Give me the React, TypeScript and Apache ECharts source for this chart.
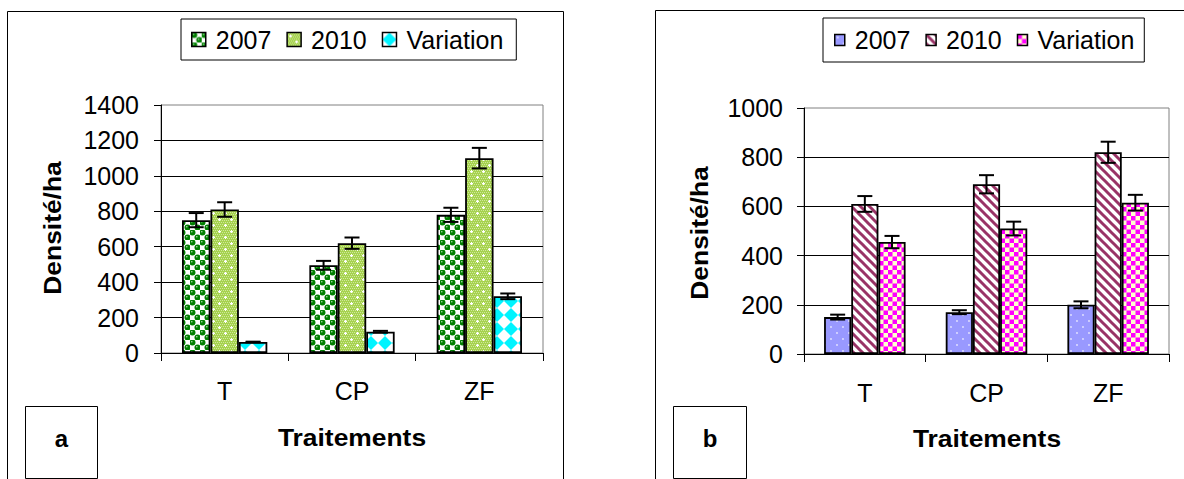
import React, { useEffect, useRef } from "react";
import * as echarts from "echarts";

// ---------- data ----------
const categories = ["T", "CP", "ZF"];
const seriesNames = ["2007", "2010", "Variation"];
const yTicksA = [0, 200, 400, 600, 800, 1000, 1200, 1400];
const yTicksB = [0, 200, 400, 600, 800, 1000];

const a2007 = [750, 495, 780];
const a2007Err = [40, 25, 40];
const a2010 = [810, 620, 1100];
const a2010Err = [41, 32, 58];
const aVar = [62, 120, 320];
const aVarErr = [2, 5, 16];

const b2007 = [150, 170, 200];
const b2007Err = [10, 8, 14];
const b2010 = [610, 690, 820];
const b2010Err = [32, 37, 43];
const bVar = [455, 510, 615];
const bVarErr = [25, 28, 32];

// ---------- styles ----------
const FONT = "'Liberation Sans', Arial, sans-serif";
const GAP = 0.33;

const tile = (w: number, h: number, body: string) => ({
  image:
    "data:image/svg+xml;charset=utf-8," +
    encodeURIComponent(
      `<svg xmlns="http://www.w3.org/2000/svg" width="${w}" height="${h}">${body}</svg>`
    ),
  repeat: "repeat",
  imageWidth: w,
  imageHeight: h,
});

const patA2007 = tile(
  10,
  10,
  `<rect width="10" height="10" fill="#ffffff"/>` +
    `<circle cx="2.5" cy="2.5" r="3" fill="#008000"/>` +
    `<circle cx="7.5" cy="7.5" r="3" fill="#008000"/>` +
    `<circle cx="1.8" cy="1.7" r="0.8" fill="#b8dcb8"/>` +
    `<circle cx="6.8" cy="6.7" r="0.8" fill="#b8dcb8"/>`
);
const patA2010 = tile(
  12,
  12,
  `<rect width="12" height="12" fill="#a6d24e"/>` +
    [0, 2, 4, 6, 8, 10]
      .map((x) =>
        [0, 2, 4, 6, 8, 10]
          .map((y) => `<rect x="${x + ((y / 2) % 2)}" y="${y}" width="1" height="1" fill="#cfe89c"/>`)
          .join("")
      )
      .join("") +
    `<rect x="2" y="3" width="3" height="1" fill="#ffffff"/><rect x="3" y="2" width="1" height="3" fill="#ffffff"/>` +
    `<rect x="8" y="9" width="3" height="1" fill="#ffffff"/><rect x="9" y="8" width="1" height="3" fill="#ffffff"/>`
);
const patAVar = tile(
  14,
  14,
  `<rect width="14" height="14" fill="#ffffff"/><polygon points="7,0 14,7 7,14 0,7" fill="#00f4ff"/>`
);

const patB2007 = tile(
  12,
  12,
  `<rect width="12" height="12" fill="#9999ff"/>` +
    `<circle cx="3" cy="3" r="0.9" fill="#e6e6ff"/><circle cx="9" cy="9" r="0.9" fill="#e6e6ff"/>`
);
const patB2010 = tile(
  9,
  9,
  `<rect width="9" height="9" fill="#ffffff"/>` +
    `<g stroke="#993366" stroke-width="3"><line x1="-2" y1="-2" x2="11" y2="11"/>` +
    `<line x1="-2" y1="7" x2="2" y2="11"/><line x1="7" y1="-2" x2="11" y2="2"/></g>`
);
const patBVar = tile(
  9,
  9,
  `<rect width="9" height="9" fill="#ffffcc"/>` +
    `<rect x="0" y="0" width="4.5" height="4.5" fill="#ff00ff"/>` +
    `<rect x="4.5" y="4.5" width="4.5" height="4.5" fill="#ff00ff"/>`
);

type Cfg = {
  values: number[][];
  errs: number[][];
  patterns: any[];
  ticks: number[];
  grid: { left: number; top: number; width: number; height: number };
  yLabelMargin: number;
  xLabelMargin: number;
  legend: {
    left: number;
    top: number;
    padding: number[];
    itemGap: number;
    iw: number;
    ih: number;
  };
  frame: { x: number; y: number; w: number; h: number };
  box: { x: number; y: number; w: number; h: number; label: string };
  xTitle: { x: number; y: number };
  yTitle: { x: number; y: number };
};

const buildOption = (c: Cfg) => {
  const errData: number[][] = [];
  for (let s = 0; s < 3; s++) {
    for (let k = 0; k < categories.length; k++) {
      errData.push([k, s, c.values[s][k], c.errs[s][k]]);
    }
  }
  const textStyleBase = { fontFamily: FONT, color: "#000" };
  return {
    animation: false,
    grid: {
      left: c.grid.left,
      top: c.grid.top,
      width: c.grid.width,
      height: c.grid.height,
      show: true,
      borderColor: "#808080",
      borderWidth: 1,
      backgroundColor: "transparent",
      containLabel: false,
      outerBoundsMode: "none",
    },
    legend: {
      show: true,
      data: seriesNames,
      left: c.legend.left,
      top: c.legend.top,
      orient: "horizontal",
      padding: c.legend.padding,
      itemGap: c.legend.itemGap,
      itemWidth: c.legend.iw,
      itemHeight: c.legend.ih,
      icon: "rect",
      borderColor: "#000",
      borderWidth: 1,
      borderRadius: 0,
      backgroundColor: "#fff",
      selectedMode: false,
      itemStyle: { borderColor: "#000", borderWidth: 1.5 },
      textStyle: { ...textStyleBase, fontSize: 25, padding: [0, 0, 0, 5] },
    },
    xAxis: {
      type: "category",
      data: categories,
      boundaryGap: true,
      axisLine: { show: true, lineStyle: { color: "#000", width: 1 } },
      axisTick: {
        show: true,
        alignWithLabel: false,
        length: 8,
        lineStyle: { color: "#000", width: 1 },
      },
      axisLabel: { ...textStyleBase, fontSize: 25, margin: c.xLabelMargin },
      splitLine: { show: false },
    },
    yAxis: {
      type: "value",
      min: c.ticks[0],
      max: c.ticks[c.ticks.length - 1],
      interval: c.ticks[1] - c.ticks[0],
      axisLine: { show: true, lineStyle: { color: "#000", width: 1 } },
      axisTick: { show: true, length: 7, lineStyle: { color: "#000", width: 1 } },
      axisLabel: {
        ...textStyleBase,
        fontSize: 25,
        margin: c.yLabelMargin,
        formatter: (v: number) => String(v),
      },
      splitLine: {
        show: true,
        showMaxLine: false,
        showMinLine: false,
        lineStyle: { color: "#000", width: 1 },
      },
    },
    series: [
      ...seriesNames.map((name, s) => ({
        name,
        type: "bar",
        data: c.values[s],
        barGap: "0%",
        barCategoryGap: GAP * 100 + "%",
        itemStyle: { color: c.patterns[s], borderColor: "#000", borderWidth: 1.8 },
        emphasis: { disabled: true },
        z: 2,
      })),
      {
        type: "custom",
        name: "err",
        data: errData,
        encode: { x: 0, y: 2 },
        z: 5,
        silent: true,
        renderItem: (_p: any, api: any) => {
          const cat = api.value(0);
          const s = api.value(1);
          const v = api.value(2);
          const e = api.value(3);
          const band = Math.abs(api.coord([1, 0])[0] - api.coord([0, 0])[0]);
          const barW = (band * (1 - GAP)) / 3;
          const x = api.coord([cat, v])[0] + (s - 1) * barW;
          const yTop = api.coord([cat, v + e])[1];
          const yBot = api.coord([cat, v - e])[1];
          const half = 7.5;
          const st = { stroke: "#000", lineWidth: 2 };
          return {
            type: "group",
            children: [
              { type: "line", shape: { x1: x, y1: yTop, x2: x, y2: yBot }, style: st },
              { type: "line", shape: { x1: x - half, y1: yTop, x2: x + half, y2: yTop }, style: st },
              { type: "line", shape: { x1: x - half, y1: yBot, x2: x + half, y2: yBot }, style: st },
            ],
          };
        },
      },
    ],
    graphic: [
      {
        type: "rect",
        silent: true,
        z: -10,
        shape: { x: c.frame.x, y: c.frame.y, width: c.frame.w, height: c.frame.h },
        style: { fill: "none", stroke: "#000", lineWidth: 1 },
      },
      {
        type: "rect",
        silent: true,
        shape: { x: c.box.x, y: c.box.y, width: c.box.w, height: c.box.h },
        style: { fill: "#fff", stroke: "#000", lineWidth: 1 },
      },
      {
        type: "text",
        silent: true,
        x: c.box.x + c.box.w / 2,
        y: c.box.y + 32,
        style: {
          text: c.box.label,
          fontFamily: FONT,
          fontWeight: "bold",
          fontSize: 24,
          fill: "#000",
          align: "center",
          verticalAlign: "middle",
          textAlign: "center",
          textVerticalAlign: "middle",
        },
      },
      {
        type: "text",
        silent: true,
        x: c.xTitle.x,
        y: c.xTitle.y,
        scaleX: 1.1,
        style: {
          text: "Traitements",
          fontFamily: FONT,
          fontWeight: "bold",
          fontSize: 24,
          fill: "#000",
          align: "center",
          verticalAlign: "middle",
          textAlign: "center",
          textVerticalAlign: "middle",
        },
      },
      {
        type: "text",
        silent: true,
        x: c.yTitle.x,
        y: c.yTitle.y,
        rotation: Math.PI / 2,
        scaleX: 1.1,
        style: {
          text: "Densité/ha",
          fontFamily: FONT,
          fontWeight: "bold",
          fontSize: 24,
          fill: "#000",
          align: "center",
          verticalAlign: "middle",
          textAlign: "center",
          textVerticalAlign: "middle",
        },
      },
    ],
  };
};

const cfgA: Cfg = {
  values: [a2007, a2010, aVar],
  errs: [a2007Err, a2010Err, aVarErr],
  patterns: [patA2007, patA2010, patAVar],
  ticks: yTicksA,
  grid: { left: 161, top: 105, width: 382, height: 248 },
  yLabelMargin: 22,
  xLabelMargin: 25,
  legend: { left: 181, top: 19, padding: [8, 13, 8, 10], itemGap: 15, iw: 14, ih: 14 },
  frame: { x: 7.5, y: 11.5, w: 556, h: 500 },
  box: { x: 25.5, y: 406.5, w: 72, h: 72, label: "a" },
  xTitle: { x: 352, y: 437 },
  yTitle: { x: 52, y: 228 },
};

const cfgB: Cfg = {
  values: [b2007, b2010, bVar],
  errs: [b2007Err, b2010Err, bVarErr],
  patterns: [patB2007, patB2010, patBVar],
  ticks: yTicksB,
  grid: { left: 204, top: 108, width: 365, height: 246 },
  yLabelMargin: 21,
  xLabelMargin: 26,
  legend: { left: 223, top: 18, padding: [9.5, 10, 9.5, 11], itemGap: 15, iw: 10, ih: 11 },
  frame: { x: 55.5, y: 10.5, w: 600, h: 500 },
  box: { x: 73.5, y: 406.5, w: 73, h: 72, label: "b" },
  xTitle: { x: 387, y: 438 },
  yTitle: { x: 99, y: 233 },
};

const Chart: React.FC<{ cfg: Cfg; left: number; width: number }> = ({ cfg, left, width }) => {
  const ref = useRef<HTMLDivElement>(null);
  useEffect(() => {
    if (!ref.current) return;
    const chart = echarts.init(ref.current, null, { renderer: "svg" });
    chart.setOption(buildOption(cfg) as any);
    return () => chart.dispose();
  }, [cfg]);
  return (
    <div
      ref={ref}
      style={{ position: "absolute", left, top: 0, width, height: 479, overflow: "hidden" }}
    />
  );
};

export default function App() {
  return (
    <div
      style={{
        position: "absolute",
        left: 0,
        top: 0,
        width: 1184,
        height: 479,
        background: "#fff",
        overflow: "hidden",
      }}
    >
      <Chart cfg={cfgA} left={0} width={600} />
      <Chart cfg={cfgB} left={600} width={584} />
    </div>
  );
}
